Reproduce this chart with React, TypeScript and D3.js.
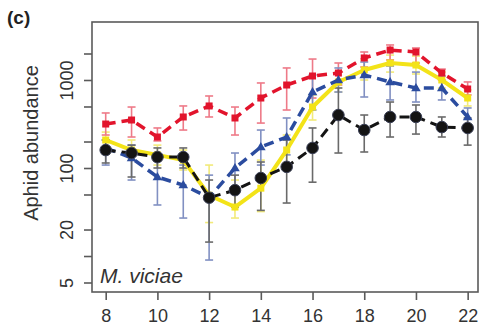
import { useEffect, useRef } from "react";
import * as d3 from "d3";

// survey weeks
const weeks = [8, 9, 10, 11, 12, 13, 14, 15, 16, 17, 18, 19, 20, 21, 22];

// mean abundance and error bar ends, per treatment
const redMean = [316, 351, 225, 380, 507, 370, 624, 877, 1110, 1200, 1780, 2190, 2080, 1200, 790];
const redHi = [422, 493, 285, 507, 658, 493, 925, 1370, 1730, 1560, 2080, 2500, 2310, 1330, 950];
const redLo = [237, 225, 203, 270, 380, 237, 324, 456, 624, 877, 1405, 1690, 1560, 1000, 676];

const yellowMean = [208, 160, 141, 123, 49, 36, 59, 160, 493, 950, 1300, 1560, 1480, 1000, 624];
const yellowHi = [256, 208, 182, 160, 108, 73, 123, 237, 676, 1230, 1690, 1920, 1870, 1230, 770];
const yellowLo = [169, 123, 108, 95, 24, 27, 32, 108, 351, 730, 1000, 1230, 1170, 811, 507];

const blueMean = [169, 130, 79, 64, 46, 100, 173, 225, 730, 1000, 1140, 950, 811, 811, 380];
const blueHi = [208, 182, 123, 108, 83, 148, 270, 370, 1140, 1370, 1600, 1440, 1230, 1110, 481];
const blueLo = [108, 73, 38, 27, 9, 56, 108, 141, 456, 730, 641, 593, 562, 593, 308];

const blackMean = [160, 148, 133, 133, 46, 56, 77, 103, 169, 400, 270, 380, 380, 292, 285];
const blackHi = [208, 182, 169, 169, 73, 83, 117, 208, 285, 811, 400, 562, 520, 380, 370];
const blackLo = [114, 79, 100, 100, 14.4, 36, 33, 40, 69, 148, 152, 225, 243, 225, 182];

const xTicks = [8, 10, 12, 14, 16, 18, 20, 22];
const yTicks = [5, 10, 20, 50, 100, 200, 500, 1000, 2000];
const yLabels = [5, 20, 100, 1000];

type Series = {
  mean: number[];
  hi: number[];
  lo: number[];
  color: string;
  errColor: string;
  dash: string | null;
  width: number;
  marker: "square" | "triangle" | "circle";
};

const series: Series[] = [
  { mean: yellowMean, hi: yellowHi, lo: yellowLo, color: "#f3e318", errColor: "#f2ea7a", dash: null, width: 4, marker: "square" },
  { mean: redMean, hi: redHi, lo: redLo, color: "#e2142c", errColor: "#ee7a88", dash: "10,6", width: 3.5, marker: "square" },
  { mean: blueMean, hi: blueHi, lo: blueLo, color: "#2b4c9f", errColor: "#8190c2", dash: "10,6", width: 3.5, marker: "triangle" },
  { mean: blackMean, hi: blackHi, lo: blackLo, color: "#141414", errColor: "#6a6a6a", dash: "10,6", width: 3, marker: "circle" },
];

export default function App() {
  const ref = useRef<SVGSVGElement>(null);

  useEffect(() => {
    if (!ref.current) return;
    const svg = d3.select(ref.current);
    svg.selectAll("*").remove();

    const left = 92, right = 478, top = 22, bottom = 292;
    const x = d3.scaleLinear().domain([7.47, 22.4]).range([left, right]);
    const y = d3.scaleLog().domain([3.9, 4560]).range([bottom, top]);

    const axisColor = "#5a5a5a";
    const font = "'Liberation Sans', Arial, sans-serif";

    // error bars first
    series.forEach((s) => {
      const g = svg.append("g").attr("stroke", s.errColor).attr("stroke-width", 1.6).attr("fill", "none");
      weeks.forEach((w, i) => {
        const cx = x(w);
        g.append("line").attr("x1", cx).attr("x2", cx).attr("y1", y(s.hi[i])).attr("y2", y(s.lo[i]));
        g.append("line").attr("x1", cx - 4).attr("x2", cx + 4).attr("y1", y(s.hi[i])).attr("y2", y(s.hi[i]));
        g.append("line").attr("x1", cx - 4).attr("x2", cx + 4).attr("y1", y(s.lo[i])).attr("y2", y(s.lo[i]));
      });
    });

    // lines and markers
    series.forEach((s) => {
      const line = d3.line<number>().x((_, i) => x(weeks[i])).y((d) => y(d));
      svg.append("path")
        .attr("d", line(s.mean))
        .attr("fill", "none")
        .attr("stroke", s.color)
        .attr("stroke-width", s.width)
        .attr("stroke-dasharray", s.dash)
        .attr("stroke-linejoin", "round");

      const m = svg.append("g");
      weeks.forEach((w, i) => {
        const cx = x(w), cy = y(s.mean[i]);
        if (s.marker === "square") {
          m.append("rect").attr("x", cx - 3.5).attr("y", cy - 3.5).attr("width", 7).attr("height", 7)
            .attr("fill", s.color);
        } else if (s.marker === "triangle") {
          m.append("path").attr("d", d3.symbol(d3.symbolTriangle, 40)()).attr("transform", `translate(${cx},${cy + 0.5})`)
            .attr("fill", s.color);
        } else {
          m.append("circle").attr("cx", cx).attr("cy", cy).attr("r", 5.8)
            .attr("fill", s.color).attr("stroke", "#3a3f55").attr("stroke-width", 1);
        }
      });
    });

    // box
    svg.append("rect").attr("x", left).attr("y", top).attr("width", right - left).attr("height", bottom - top)
      .attr("fill", "none").attr("stroke", axisColor).attr("stroke-width", 1.6);

    // x axis
    const xa = svg.append("g").attr("transform", `translate(0,${bottom})`)
      .call(d3.axisBottom(x).tickValues(xTicks).tickSize(8).tickFormat(d3.format("d")));
    xa.select(".domain").remove();
    xa.selectAll("line").attr("stroke", axisColor).attr("stroke-width", 1.6);
    xa.selectAll("text").attr("font-family", font).attr("font-size", 18).attr("fill", "#333").attr("dy", "1.05em");

    // y axis
    const ya = svg.append("g").attr("transform", `translate(${left},0)`)
      .call(d3.axisLeft(y).tickValues(yTicks).tickSize(8)
        .tickFormat((d) => (yLabels.includes(+d) ? String(d) : "")));
    ya.select(".domain").remove();
    ya.selectAll("line").attr("stroke", axisColor).attr("stroke-width", 1.6);
    ya.selectAll("text")
      .attr("font-family", font).attr("font-size", 18).attr("fill", "#333")
      .attr("x", null).attr("dy", null)
      .attr("text-anchor", "middle")
      .attr("transform", "translate(-19,0) rotate(-90)")
      .attr("y", 0);

    svg.append("text")
      .attr("transform", "translate(38,143) rotate(-90)")
      .attr("text-anchor", "middle")
      .attr("font-family", font).attr("font-size", 20).attr("fill", "#333")
      .text("Aphid abundance");

    svg.append("text")
      .attr("x", 100).attr("y", 283)
      .attr("font-family", font).attr("font-size", 21).attr("font-style", "italic").attr("fill", "#333")
      .text("M. viciae");

    svg.append("text")
      .attr("x", 7).attr("y", 24)
      .attr("font-family", font).attr("font-size", 19).attr("font-weight", "bold").attr("fill", "#222")
      .text("(c)");
  }, []);

  return (
    <svg ref={ref} width={481} height={331}
      style={{ position: "absolute", left: 0, top: 0, background: "#fff" }} />
  );
}
